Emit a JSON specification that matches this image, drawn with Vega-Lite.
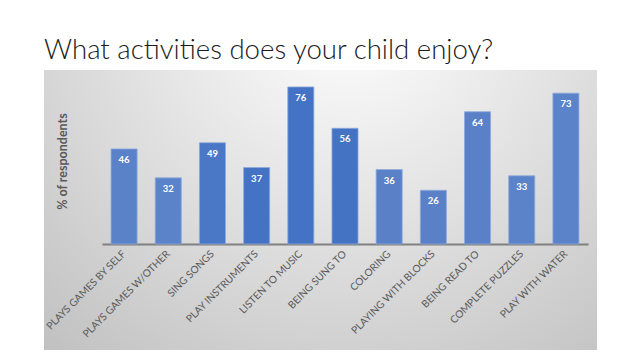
{
  "$schema": "https://vega.github.io/schema/vega-lite/v6.json",
  "width": 553,
  "height": 280,
  "autosize": {"type": "none"},
  "padding": {"left": 44, "top": 70, "right": 43, "bottom": 10},
  "background": "#ffffff",
  "title": {
    "text": "What activities does your child enjoy?",
    "anchor": "start",
    "frame": "group",
    "baseline": "alphabetic",
    "offset": -17,
    "font": "Lato",
    "fontSize": 27.6,
    "fontWeight": 300,
    "color": "#1a1a1a"
  },
  "config": {
    "view": {
      "stroke": null,
      "fill": {
        "gradient": "radial",
        "x1": 0.55, "y1": 0.12, "r1": 0,
        "x2": 0.55, "y2": 0.12, "r2": 0.9,
        "stops": [
          {"offset": 0, "color": "#ffffff"},
          {"offset": 0.15, "color": "#f6f6f6"},
          {"offset": 1, "color": "#bcbcbc"}
        ]
      }
    }
  },
  "data": {
    "values": [
      {"activity": "PLAYS GAMES BY SELF", "pct": 46},
      {"activity": "PLAYS GAMES W/OTHER", "pct": 32},
      {"activity": "SING SONGS", "pct": 49},
      {"activity": "PLAY INSTRUMENTS", "pct": 37},
      {"activity": "LISTEN TO MUSIC", "pct": 76},
      {"activity": "BEING SUNG TO", "pct": 56},
      {"activity": "COLORING", "pct": 36},
      {"activity": "PLAYING WITH BLOCKS", "pct": 26},
      {"activity": "BEING READ TO", "pct": 64},
      {"activity": "COMPLETE PUZZLES", "pct": 33},
      {"activity": "PLAY WITH WATER", "pct": 73}
    ]
  },
  "encoding": {
    "x": {
      "field": "activity",
      "type": "nominal",
      "sort": null,
      "scale": {"range": [58, 544], "paddingInner": 0.41, "paddingOuter": 0.205},
      "axis": {
        "title": null,
        "orient": "bottom",
        "offset": -106,
        "domainColor": "#808080",
        "domainWidth": 2,
        "ticks": false,
        "labelAngle": -45,
        "labelAlign": "right",
        "labelBaseline": "middle",
        "labelPadding": 8,
        "labelFont": "Lato",
        "labelFontSize": 10.2,
        "labelColor": "#595959",
        "labelLimit": 300
      }
    },
    "y": {
      "field": "pct",
      "type": "quantitative",
      "scale": {"domain": [-51.3, 84.2], "nice": false, "zero": false},
      "axis": {
        "title": "% of respondents",
        "labels": false,
        "ticks": false,
        "domain": false,
        "grid": false,
        "titleFont": "Lato",
        "titleFontSize": 12.5,
        "titleFontWeight": "bold",
        "titleColor": "#595959",
        "titleAngle": -90,
        "titleX": 18,
        "titleY": 91,
        "titleAlign": "center",
        "titleBaseline": "middle"
      }
    }
  },
  "layer": [
    {
      "mark": {"type": "bar", "stroke": "#8eaadb", "strokeWidth": 1, "strokeOpacity": 0.8},
      "encoding": {
        "y2": {"datum": 0},
        "color": {
          "field": "activity",
          "type": "nominal",
          "sort": null,
          "legend": null,
          "scale": {
            "domain": ["PLAYS GAMES BY SELF", "PLAYS GAMES W/OTHER", "SING SONGS", "PLAY INSTRUMENTS", "LISTEN TO MUSIC", "BEING SUNG TO", "COLORING", "PLAYING WITH BLOCKS", "BEING READ TO", "COMPLETE PUZZLES", "PLAY WITH WATER"],
            "range": ["#5a82c8", "#5b83c9", "#4a77c6", "#4472c4", "#4472c4", "#4573c4", "#5a81c8", "#5a81c8", "#5a81c8", "#5b83c9", "#5b83c9"]
          }
        }
      }
    },
    {
      "mark": {"type": "text", "baseline": "top", "dy": 6, "color": "#ffffff", "font": "Lato", "fontSize": 9.5, "fontWeight": "bold"},
      "encoding": {"text": {"field": "pct", "type": "quantitative"}}
    }
  ]
}
